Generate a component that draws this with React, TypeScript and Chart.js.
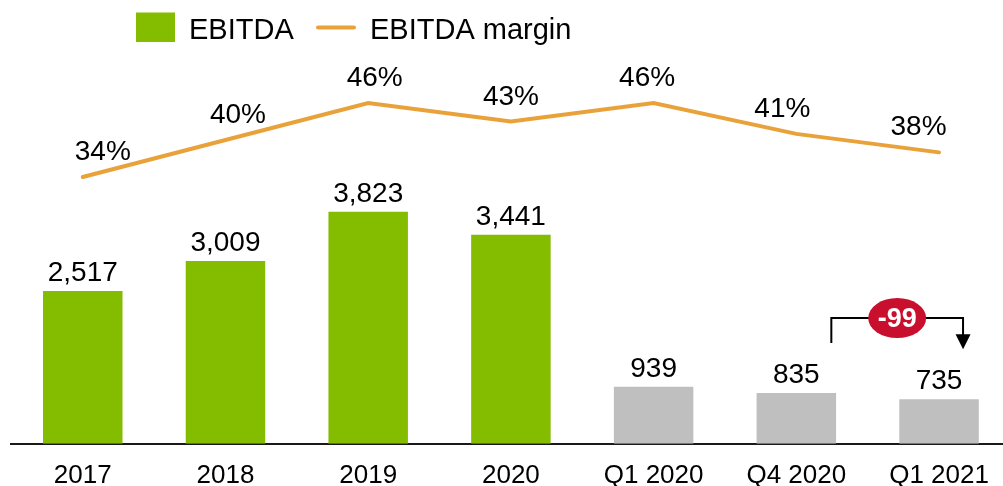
import React, { useEffect, useRef } from "react";
import { Chart, registerables } from "chart.js";

Chart.register(...registerables);

const categories = ["2017", "2018", "2019", "2020", "Q1 2020", "Q4 2020", "Q1 2021"];
const ebitda = [2517, 3009, 3823, 3441, 939, 835, 735];
const ebitdaMargin = [34, 40, 46, 43, 46, 41, 38];
const marginLabelDx = [20, 12.5, 6.5, 0, -6.5, -14, -20.5];
const deltaFromIndex = 5;
const deltaToIndex = 6;
const deltaLabel = "-99";

const FONT = '"Liberation Sans", Arial, Helvetica, sans-serif';
const GREEN = "#84BD00";
const GRAY = "#BFBFBF";
const ORANGE = "#E9A23A";
const RED = "#C8102E";

const overlayPlugin = {
  id: "overlay",
  afterDatasetsDraw(chart: any) {
    const ctx = chart.ctx;
    const xs = chart.scales.x;
    const ys = chart.scales.y;
    ctx.save();
    // bar value labels
    const barMeta = chart.getDatasetMeta(1);
    ctx.font = `28px ${FONT}`;
    ctx.fillStyle = "#000";
    ctx.textAlign = "center";
    ctx.textBaseline = "alphabetic";
    barMeta.data.forEach((el: any, i: number) => {
      ctx.fillText(ebitda[i].toLocaleString("en-US"), el.x, el.y - 10);
    });
    // margin labels
    const lineMeta = chart.getDatasetMeta(0);
    lineMeta.data.forEach((el: any, i: number) => {
      ctx.fillText(ebitdaMargin[i] + "%", el.x + marginLabelDx[i], el.y - 17);
    });

    // delta annotation
    const yA = ys.getPixelForValue(ebitda[deltaFromIndex]);
    const yB = ys.getPixelForValue(ebitda[deltaToIndex]);
    const xL = xs.getPixelForValue(deltaFromIndex) + 35;
    const xR = xs.getPixelForValue(deltaToIndex) + 24;
    const top = Math.min(yA, yB) - 75;
    const tip = yB - 50;
    ctx.strokeStyle = "#000";
    ctx.lineWidth = 2;
    ctx.beginPath();
    ctx.moveTo(xL, yA - 50);
    ctx.lineTo(xL, top);
    ctx.lineTo(xR, top);
    ctx.lineTo(xR, tip - 14);
    ctx.stroke();
    ctx.fillStyle = "#000";
    ctx.beginPath();
    ctx.moveTo(xR - 7.5, tip - 15);
    ctx.lineTo(xR + 7.5, tip - 15);
    ctx.lineTo(xR, tip);
    ctx.closePath();
    ctx.fill();
    const cx = (xL + xR) / 2;
    ctx.fillStyle = RED;
    ctx.beginPath();
    ctx.ellipse(cx, top, 29, 20, 0, 0, Math.PI * 2);
    ctx.fill();
    ctx.fillStyle = "#fff";
    ctx.font = `bold 27px ${FONT}`;
    ctx.textBaseline = "middle";
    ctx.fillText(deltaLabel, cx, top + 1);

    // legend
    ctx.fillStyle = GREEN;
    ctx.fillRect(136, 12.5, 39, 29.5);
    ctx.fillStyle = "#000";
    ctx.font = `29px ${FONT}`;
    ctx.textAlign = "left";
    ctx.textBaseline = "alphabetic";
    ctx.fillText(chart.data.datasets[1].label, 189, 38.5);
    ctx.strokeStyle = ORANGE;
    ctx.lineWidth = 4;
    ctx.lineCap = "round";
    ctx.beginPath();
    ctx.moveTo(318, 27.5);
    ctx.lineTo(354, 27.5);
    ctx.stroke();
    ctx.fillText(chart.data.datasets[0].label, 370, 38.5);
    ctx.restore();
  },
};

export default function App() {
  const ref = useRef<HTMLCanvasElement | null>(null);
  useEffect(() => {
    if (!ref.current) return;
    const chart = new Chart(ref.current, {
      type: "bar",
      data: {
        labels: categories,
        datasets: [
          {
            type: "line",
            label: "EBITDA margin",
            data: ebitdaMargin,
            yAxisID: "y1",
            borderColor: ORANGE,
            borderWidth: 4,
            borderCapStyle: "round",
            borderJoinStyle: "miter",
            pointRadius: 0,
            tension: 0,
            clip: false,
          } as any,
          {
            type: "bar",
            label: "EBITDA",
            data: ebitda,
            yAxisID: "y",
            backgroundColor: categories.map((c) => (c.startsWith("Q") ? GRAY : GREEN)),
            barPercentage: 0.557,
            categoryPercentage: 1,
          },
        ],
      },
      options: {
        animation: false,
        responsive: true,
        maintainAspectRatio: false,
        layout: { padding: { left: 11.4, right: 1.6, top: 60, bottom: 0 } },
        plugins: { legend: { display: false }, tooltip: { enabled: false } },
        scales: {
          x: {
            offset: true,
            grid: { display: false, drawTicks: false },
            border: { display: true, color: "#1a1a1a", width: 2 },
            ticks: {
              color: "#000",
              font: { family: FONT, size: 26 },
              padding: 16,
              maxRotation: 0,
              autoSkip: false,
            },
          },
          y: { display: false, min: 0, max: 6321 },
          y1: { display: false, min: -9.33, max: 53 },
        },
      },
      plugins: [overlayPlugin],
    });
    return () => chart.destroy();
  }, []);
  return (
    <div style={{ position: "absolute", left: 0, top: 0, width: 1003, height: 486, overflow: "hidden", background: "#fff" }}>
      <div style={{ position: "relative", width: 1012, height: 507 }}>
        <canvas ref={ref} />
      </div>
    </div>
  );
}
